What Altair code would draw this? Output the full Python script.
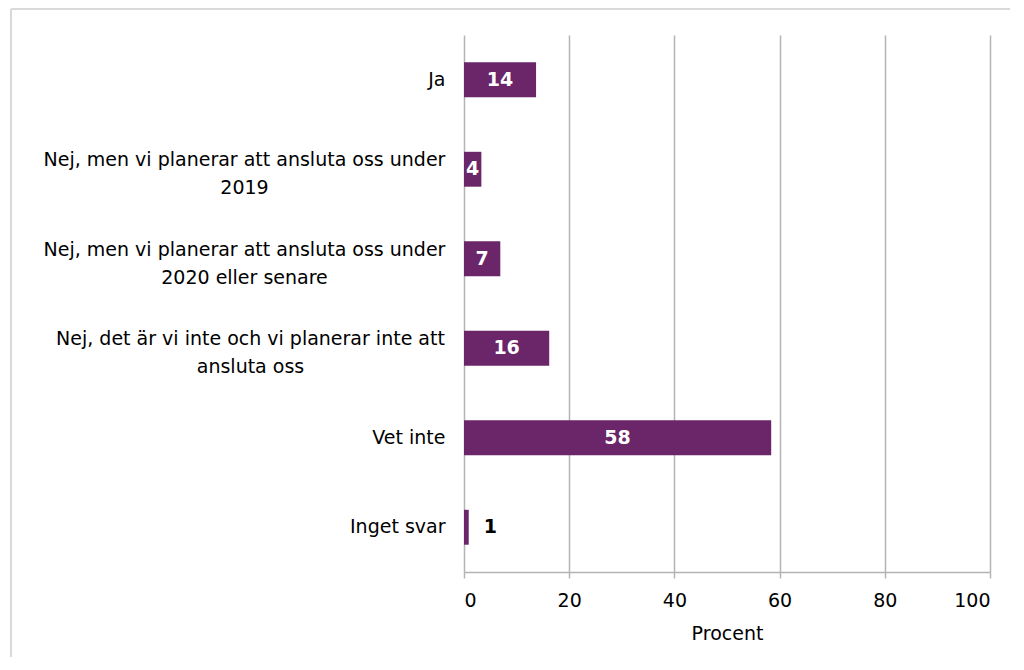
import altair as alt
import pandas as pd

# ---- data ----
categories = [
    "Ja",
    "Nej, men vi planerar att ansluta oss under\n2019",
    "Nej, men vi planerar att ansluta oss under\n2020 eller senare",
    "Nej, det är vi inte och vi planerar inte att\nansluta oss",
    "Vet inte",
    "Inget svar",
]
values = [13.7, 3.3, 6.9, 16.2, 58.4, 0.9]
labels = ["14", "4", "7", "16", "58", "1"]
x_ticks = [0, 20, 40, 60, 80, 100]

df = pd.DataFrame({"kategori": categories, "procent": values, "etikett": labels})
frame_df = pd.DataFrame({"f": [0]})

FONT = "DejaVu Sans"
PURPLE = "#6b2569"
GRID = "#b4b4b4"
FRAME = "#d9d9d9"

x_scale = alt.Scale(domain=[0, 100], nice=False)
y_scale = alt.Scale(paddingInner=0.61, paddingOuter=0.305)

y_axis = alt.Axis(
    title=None,
    domain=False,
    ticks=False,
    grid=False,
    labelFont=FONT,
    labelFontSize=19,
    labelColor="#000000",
    labelLineHeight=28,
    labelLimit=600,
    labelBaseline="middle",
    labelExpr="split(datum.label, '\\n')",
    labelAlign={
        "condition": {"test": "indexof(datum.value, '\\n') >= 0", "value": "center"},
        "value": "right",
    },
    labelPadding=alt.ExprRef("indexof(datum.value, 'under') >= 0 ? 220 : (indexof(datum.value, '\\n') >= 0 ? 214 : 19)"),
    labelOffset=alt.ExprRef("indexof(datum.value, '\\n') >= 0 ? -9 : 0"),
)

x_axis = alt.Axis(
    title="Procent",
    values=x_ticks,
    grid=True,
    gridColor=GRID,
    gridWidth=1.5,
    domainColor=GRID,
    domainWidth=1.5,
    tickColor=GRID,
    tickWidth=1.5,
    tickSize=6,
    labelFont=FONT,
    labelFontSize=19,
    labelColor="#000000",
    labelPadding=13,
    titleFont=FONT,
    titleFontSize=19,
    titleFontWeight="normal",
    titleColor="#000000",
    titlePadding=14,
)

y_enc = alt.Y("kategori:N", sort=categories, scale=y_scale, axis=y_axis)

# decorative chart border (left and top edges; the others lie outside the picture)
frame_top = alt.Chart(frame_df).mark_rule(color=FRAME, strokeWidth=2).encode(
    x=alt.value(-453), x2=alt.value(560), y=alt.value(-26)
)
frame_left = alt.Chart(frame_df).mark_rule(color=FRAME, strokeWidth=2).encode(
    x=alt.value(-453), y=alt.value(-26), y2=alt.value(700)
)

bars = alt.Chart(df).mark_bar(color=PURPLE).encode(
    x=alt.X("procent:Q", scale=x_scale, axis=x_axis),
    y=y_enc,
)

inside = alt.Chart(df).transform_filter(
    "datum.procent >= 2"
).transform_calculate(
    mid="datum.procent / 2"
).mark_text(
    font=FONT, fontSize=19, fontWeight="bold", color="white", align="center", baseline="middle"
).encode(
    x=alt.X("mid:Q", scale=x_scale, axis=x_axis),
    y=y_enc,
    text="etikett:N",
)

outside = alt.Chart(df).transform_filter(
    "datum.procent < 2"
).mark_text(
    font=FONT, fontSize=19, fontWeight="bold", color="black", align="left", baseline="middle", dx=15
).encode(
    x=alt.X("procent:Q", scale=x_scale, axis=x_axis),
    y=y_enc,
    text="etikett:N",
)

chart = alt.layer(bars, inside, outside, frame_top, frame_left).properties(
    width=526,
    height=537,
    autosize=alt.AutoSizeParams(type="none"),
    padding={"left": 456, "top": 27, "right": 20, "bottom": 85},
    background="white",
).configure_view(stroke=None)

chart.save("out.html", embed_options={"renderer": "svg", "actions": False})
